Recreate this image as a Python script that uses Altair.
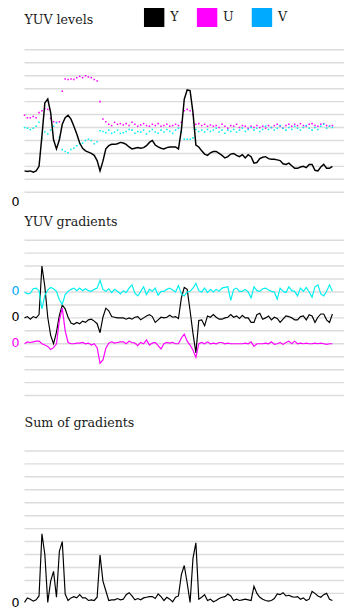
import altair as alt
import pandas as pd

# ---------------- data ----------------
SAMPLE = list(range(107))

Y_LEVEL = [53, 52, 53, 51, 53, 60, 107, 158, 164, 143,
           101, 87, 101, 125, 135, 139, 133, 122, 110, 96,
           88, 84, 82, 80, 77, 69, 53, 68, 87, 92,
           94, 94, 95, 97, 96, 94, 90, 87, 88, 89,
           88, 89, 92, 97, 100, 93, 90, 88, 87, 89,
           90, 90, 90, 87, 116, 164, 178, 177, 143, 93,
           90, 84, 79, 77, 81, 83, 83, 80, 77, 73,
           75, 79, 80, 77, 75, 78, 73, 78, 75, 65,
           66, 72, 74, 75, 72, 71, 71, 70, 69, 64,
           63, 65, 61, 57, 57, 59, 60, 58, 63, 63,
           54, 53, 59, 63, 57, 57, 60]

U_LEVEL = [139, 135, 135, 137, 135, 143, 146, 149, 148, 134,
           129, 128, 129, 176, 195, 194, 195, 194, 197, 199,
           197, 200, 198, 197, 194, 192, 160, 133, 129, 125,
           123, 128, 125, 126, 124, 126, 123, 128, 125, 122,
           124, 126, 123, 122, 125, 123, 126, 122, 123, 125,
           122, 123, 125, 123, 128, 146, 148, 146, 140, 125,
           126, 123, 125, 122, 124, 122, 123, 120, 125, 122,
           119, 123, 122, 125, 120, 123, 122, 119, 122, 120,
           123, 120, 122, 119, 123, 120, 123, 125, 122, 119,
           123, 125, 122, 125, 123, 126, 123, 122, 125, 126,
           123, 122, 125, 126, 123, 122, 123]

V_LEVEL = [120, 119, 117, 119, 122, 128, 103, 113, 110, 116,
           122, 127, 105, 86, 83, 81, 86, 88, 92, 95,
           96, 100, 102, 100, 95, 98, 115, 114, 112, 116,
           111, 113, 116, 111, 112, 114, 117, 116, 111, 114,
           113, 116, 110, 114, 117, 113, 111, 116, 113, 117,
           114, 111, 116, 119, 113, 102, 102, 102, 104, 117,
           114, 116, 113, 117, 114, 116, 119, 113, 116, 111,
           116, 114, 117, 113, 116, 119, 114, 117, 120, 116,
           119, 114, 117, 122, 117, 120, 116, 119, 123, 119,
           116, 120, 117, 122, 119, 116, 120, 123, 119, 116,
           120, 117, 122, 125, 119, 122, 120]

Y_GRAD = [0, 2, -2, 2, 0, 5, 80, 48, 1, -27,
          -40, -22, 4, 20, 14, 1, -8, -10, -7, -9,
          -5, -7, -3, -2, -5, -9, -23, 1, 15, 11,
          2, 1, 0, 0, 0, -2, 0, -2, 1, 2,
          -3, 0, 3, 5, 2, -7, -3, 1, 0, 1,
          4, 1, 2, -1, 31, 47, 44, 11, -24, -54,
          -4, -3, -12, 3, 1, 5, 1, -2, -2, 0,
          1, 5, 1, 3, -1, 4, 0, 0, -7, -7,
          5, 7, -2, 0, 3, -3, 1, -1, -7, -2,
          3, 2, 0, -3, -3, 2, 3, -3, 5, 3,
          -7, 1, 6, 6, -3, -7, 6]

U_GRAD = [0, 3, 2, 3, 4, 4, 0, -2, -4, -9,
          -6, 0, 36, 55, 20, 2, 0, 0, 1, 1,
          2, 0, 1, -2, 0, -6, -30, -25, -7, 1,
          3, 1, 2, 3, 3, 0, 4, 2, 1, -3,
          2, 0, 6, -2, 1, 2, -3, -8, 0, 2,
          1, 2, 0, 0, 9, 15, 4, -2, -10, -21,
          0, 2, 0, 3, 0, 1, 0, 2, 2, 0,
          1, 0, 0, 0, 0, 0, 1, 0, 3, -4,
          0, 0, 0, 1, 0, 3, -1, 0, 2, -1,
          2, 4, 0, 4, 0, 1, 0, 1, 0, 0,
          1, 0, 1, 0, -1, 0, 0]

V_GRAD = [0, -3, -2, 5, 6, 2, -26, -5, 3, 7,
          5, 1, -12, -19, -4, 1, 4, 6, 2, 6,
          2, 5, 2, 1, 4, 6, 18, 4, 1, 5,
          -1, 4, 1, -3, 2, -1, 6, 11, -2, -6,
          1, 8, -4, 4, 1, 6, -5, 1, 1, 4,
          6, 3, 0, 10, -3, -6, 0, 1, 6, 13,
          2, 0, 6, -1, 4, 0, 4, 1, 6, 7,
          8, -13, 4, 6, 1, 1, 4, 0, -9, 8,
          2, 1, 5, 6, 3, 1, 0, -11, 6, 1,
          -1, 8, 2, 1, -6, 6, 1, 7, 0, -8,
          8, 11, -3, -6, 1, 11, 1]

SUM_GRAD = [6, 13, 11, 8, 10, 16, 112, 80, 6, 39,
            54, 14, 85, 100, 19, 9, 13, 15, 13, 18,
            13, 13, 9, 10, 9, 14, 79, 39, 24, 9,
            10, 10, 12, 10, 11, 18, 21, 16, 10, 12,
            10, 13, 14, 15, 15, 12, 19, 15, 9, 14,
            11, 7, 14, 16, 49, 63, 36, 6, 74, 98,
            11, 14, 18, 9, 11, 7, 9, 12, 14, 15,
            19, 16, 9, 11, 9, 10, 11, 10, 9, 31,
            20, 14, 11, 9, 8, 9, 12, 19, 18, 21,
            16, 17, 15, 14, 15, 11, 13, 9, 11, 23,
            20, 16, 14, 18, 20, 11, 9]

SERIES = ["Y", "U", "V"]
LEGEND_COLORS = ["#000000", "#ff00ff", "#00aaff"]
LINE_COLORS = {"Y": "#000000", "U": "#ff00ff", "V": "#00f0f0"}
GRAD_SERIES = ["V", "Y", "U"]
GRAD_BASELINE = [160, 120, 80]
ZERO_COLORS = ["#3aa0f0", "#000000", "#ff00ff"]
ZERO_TEXT = "0"
GRID_LEVELS = list(range(20, 241, 20))
GRID_GRAD = list(range(0, 241, 20))
GRID_SUM = list(range(20, 241, 20))
TITLES = ["YUV levels", "YUV gradients", "Sum of gradients"]

# ---------------- styling ----------------
W, H = 329, 160
SERIF = "DejaVu Serif"
SANS = "DejaVu Sans"
GRID_COLOR = "#dcdcdc"

xs = alt.Scale(domain=[0, 110], nice=False, zero=False)
ys = alt.Scale(domain=[0, 240], nice=False, zero=True)
X = alt.X("i:Q", scale=xs, axis=None)


def grid(values):
    return alt.Chart(pd.DataFrame({"g": values})).mark_rule(
        color=GRID_COLOR, strokeWidth=1.5
    ).encode(y=alt.Y("g:Q", scale=ys, axis=None), x=alt.value(0), x2=alt.value(W))


def zero_label():
    return alt.Chart(pd.DataFrame({"v": [0], "t": [ZERO_TEXT]})).mark_text(
        align="right", baseline="middle", dx=-5, dy=-3, font=SANS, fontSize=13, color="#000000"
    ).encode(x=alt.value(0), y=alt.Y("v:Q", scale=ys, axis=None), text="t:N")


def title(text, offset):
    return alt.TitleParams(text=text, anchor="start", frame="group", font=SERIF,
                           fontSize=13, fontWeight="normal", color="#1a1a1a", offset=offset)


levels = pd.DataFrame({"i": SAMPLE, "Y": Y_LEVEL, "U": U_LEVEL, "V": V_LEVEL})

u_dots = alt.Chart(levels).mark_square(size=2.5, color=LINE_COLORS["U"], opacity=1).encode(
    x=X, y=alt.Y("U:Q", scale=ys, axis=None))
v_dots = alt.Chart(levels).mark_square(size=2.5, color=LINE_COLORS["V"], opacity=1).encode(
    x=X, y=alt.Y("V:Q", scale=ys, axis=None))
y_line = alt.Chart(levels).mark_line(color="#000000", strokeWidth=1.5).encode(
    x=X, y=alt.Y("Y:Q", scale=ys, axis=None))

legend_layer = alt.Chart(pd.DataFrame({"series": SERIES})).mark_square(opacity=0).encode(
    color=alt.Color("series:N", scale=alt.Scale(domain=SERIES, range=LEGEND_COLORS),
                    legend=alt.Legend(orient="none", legendX=123, legendY=-44.5,
                                      direction="horizontal", title=None,
                                      symbolType="square", symbolSize=441,
                                      symbolOpacity=1, symbolStrokeWidth=0,
                                      labelFont=SERIF, labelFontSize=13,
                                      labelColor="#1a1a1a", labelOffset=6,
                                      columnPadding=18.5, padding=0)))

p1 = alt.layer(grid(GRID_LEVELS), u_dots, v_dots, y_line, zero_label(), legend_layer).properties(
    width=W, height=H, title=title(TITLES[0], 23))

# gradients, each series on its own baseline
rows = []
for s, vals in (("V", V_GRAD), ("Y", Y_GRAD), ("U", U_GRAD)):
    for i, g in zip(SAMPLE, vals):
        rows.append({"i": i, "series": s, "grad": g,
                     "base": GRAD_BASELINE[GRAD_SERIES.index(s)]})
grads = pd.DataFrame(rows)


def grad_line(s):
    return alt.Chart(grads).transform_filter(alt.datum.series == s).transform_calculate(
        plot="datum.grad + datum.base").mark_line(color=LINE_COLORS[s], strokeWidth=1.2).encode(
        x=X, y=alt.Y("plot:Q", scale=ys, axis=None))


zero_grad = alt.Chart(pd.DataFrame({"series": GRAD_SERIES, "base": GRAD_BASELINE,
                                    "t": [ZERO_TEXT] * 3})).mark_text(
    align="right", baseline="middle", dx=-5, dy=-1, font=SANS, fontSize=13).encode(
    x=alt.value(0), y=alt.Y("base:Q", scale=ys, axis=None), text="t:N",
    color=alt.Color("series:N", scale=alt.Scale(domain=GRAD_SERIES, range=ZERO_COLORS), legend=None))

p2 = alt.layer(grid(GRID_GRAD), grad_line("Y"), grad_line("V"), grad_line("U"), zero_grad).properties(
    width=W, height=H, title=title(TITLES[1], 11))

sums = pd.DataFrame({"i": SAMPLE, "s": SUM_GRAD})
sum_line = alt.Chart(sums).mark_line(color="#000000", strokeWidth=1.2).encode(
    x=X, y=alt.Y("s:Q", scale=ys, axis=None))

p3 = alt.layer(grid(GRID_SUM), sum_line, zero_label()).properties(
    width=W, height=H, title=title(TITLES[2], 21))

chart = alt.vconcat(alt.vconcat(p1, p2, spacing=7), p3, spacing=21).properties(
    padding={"left": 3, "top": -11, "right": 0, "bottom": 0}
).configure_view(stroke=None)

chart.save("out.html", embed_options={"renderer": "svg", "actions": False})
